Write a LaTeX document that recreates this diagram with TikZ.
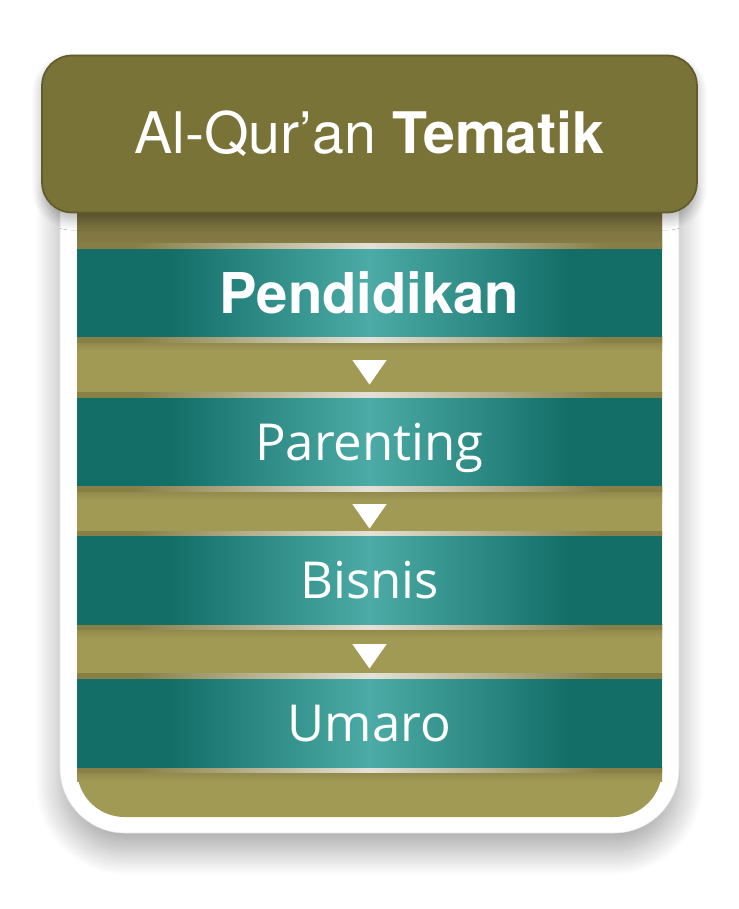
\documentclass[tikz,border=0pt]{standalone}
\usepackage{fontspec}
\setmainfont{TeX Gyre Heros}
\newfontfamily\bandfont{Open Sans}
\usetikzlibrary{shapes.geometric,shadows.blur}

\definecolor{olivedark}{HTML}{7A7337}
\definecolor{olivemid}{HTML}{887F46}
\definecolor{olivelight}{HTML}{A19A55}
\definecolor{tealdark}{HTML}{136E68}
\definecolor{teallight}{HTML}{4CABA6}
\definecolor{glintc}{HTML}{E4E2D8}

\pgfdeclarehorizontalshading{bandshade}{100bp}{color(0bp)=(tealdark); color(33bp)=(tealdark); color(50bp)=(teallight); color(67bp)=(tealdark); color(100bp)=(tealdark)}
\pgfdeclarehorizontalshading{glintshade}{100bp}{color(0bp)=(olivemid); color(30bp)=(olivemid); color(50bp)=(glintc); color(70bp)=(olivemid); color(100bp)=(olivemid)}

\begin{document}
\begin{tikzpicture}
    [
        x=0.02cm, y=-0.02cm,
        band/.style={minimum width=11.7cm, minimum height=1.76cm, inner sep=0pt,
            text height=20.5pt, text depth=0pt,
            shading=bandshade, text=white, font=\bandfont\fontsize{29}{29}\selectfont},
        arrowtip/.style={isosceles triangle, isosceles triangle apex angle=70,
            shape border rotate=270, fill=white, inner sep=0pt, minimum size=0.49cm},
        gap/.style={top color=olivemid, bottom color=olivelight},
        glint/.style={shading=glintshade}
    ]
    \useasboundingbox (0,0) rectangle (739,909);
    \fill[white, draw=black!10, line width=0.3pt, rounded corners=1.3cm,
        blur shadow={shadow xshift=0pt, shadow yshift=-10pt, shadow blur radius=14pt,
            shadow blur steps=30, shadow opacity=35}]
        (60,120) rectangle (679,833);
    \fill[olivelight, rounded corners=0.95cm] (77,150) rectangle (662,817);
    \fill[top color=olivemid!85!black, bottom color=olivemid] (77,212) rectangle (662,249);
    \foreach \ya in {337, 486, 624, 767}
        \fill[gap] (77,\ya) rectangle (662,\ya+14);
    \foreach \yg in {243, 337, 392, 486, 531, 624, 673, 767}
        \fill[glint] (77,\yg) rectangle (662,\yg+5);
    \node[rounded corners=0.6cm, minimum width=13.1cm, minimum height=3.14cm, fill=olivedark,
        draw=olivedark!80!black, line width=1pt,
        blur shadow={shadow xshift=0pt, shadow yshift=-4pt, shadow blur radius=6pt,
            shadow blur steps=20, shadow opacity=30},
        text=white, font=\fontsize{32.6}{32.6}\selectfont] (title) at (369.5,134)
        {Al-Qur’an \textbf{Tematik}};
    \node[band, text height=23pt, font=\fontsize{32}{32}\selectfont\bfseries] (edu) at (369.5,293) {Pendidikan};
    \node[band] (parent) at (369.5,442) {Parenting};
    \node[band] (biz) at (369.5,580.5) {Bisnis};
    \node[band] (umaro) at (369.5,723) {Umaro};
    \node[arrowtip] (a1) at (369.5,369) {};
    \node[arrowtip] (a2) at (369.5,513) {};
    \node[arrowtip] (a3) at (369.5,653) {};
\end{tikzpicture}
\end{document}
